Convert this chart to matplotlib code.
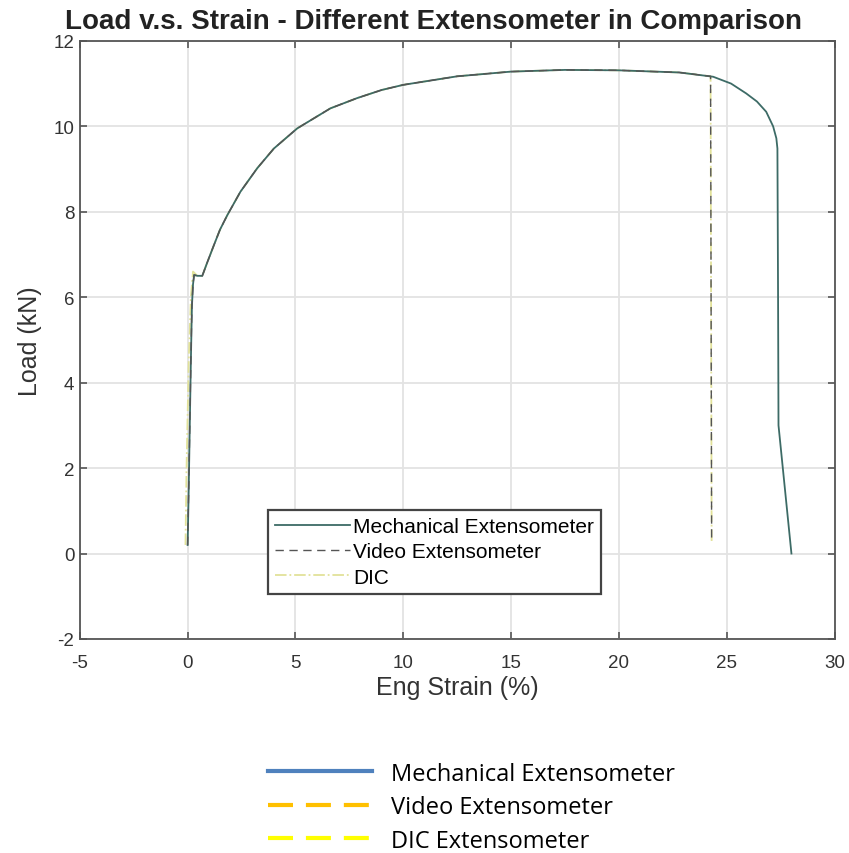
import numpy as np
import matplotlib.pyplot as plt
from matplotlib.lines import Line2D

plt.rcParams['axes.unicode_minus'] = False

# Datos (deformacion en %, carga en kN)
strain_mech = [0.0, 0.05, 0.1, 0.15, 0.2, 0.25, 0.3, 0.45, 0.68, 0.9, 1.22, 1.5, 1.84, 2.45, 3.23,
               4.0, 5.08, 6.62, 7.86, 9.0, 10.0, 12.5, 15.0, 17.5, 20.0, 22.8, 24.37, 25.2,
               25.9, 26.4, 26.83, 27.15, 27.3, 27.35, 27.38, 27.4, 27.7, 28.0]
load_mech = [0.2, 1.5, 3.0, 4.5, 5.8, 6.3, 6.52, 6.5, 6.5, 6.8, 7.22, 7.58, 7.92, 8.47, 9.02,
             9.48, 9.95, 10.42, 10.66, 10.85, 10.97, 11.17, 11.28, 11.32, 11.31, 11.26, 11.16, 11.0,
             10.77, 10.58, 10.34, 10.0, 9.72, 9.48, 6.0, 3.0, 1.5, 0.0]

strain_video = [0.0, 0.05, 0.1, 0.15, 0.2, 0.25, 0.3, 0.45, 0.68, 0.9, 1.22, 1.5, 1.84, 2.45, 3.23,
                4.0, 5.08, 6.62, 7.86, 9.0, 10.0, 12.5, 15.0, 17.5, 20.0, 22.8, 24.25, 24.3]
load_video = [0.2, 1.5, 3.0, 4.5, 5.8, 6.3, 6.52, 6.5, 6.5, 6.8, 7.22, 7.58, 7.92, 8.47, 9.02,
              9.48, 9.95, 10.42, 10.66, 10.85, 10.97, 11.17, 11.28, 11.32, 11.31, 11.26, 11.17, 0.25]

strain_dic = [-0.1, -0.05, 0.05, 0.15, 0.25, 0.45, 0.68, 0.9, 1.22, 1.5, 1.84, 2.45, 3.23,
              4.0, 5.08, 6.62, 7.86, 9.0, 10.0, 12.5, 15.0, 17.5, 20.0, 22.8, 24.25, 24.3]
load_dic = [0.2, 2.0, 4.5, 6.0, 6.6, 6.5, 6.5, 6.8, 7.22, 7.58, 7.92, 8.47, 9.02,
            9.48, 9.95, 10.42, 10.66, 10.85, 10.97, 11.17, 11.28, 11.32, 11.31, 11.26, 11.17, 0.25]

legend_in = ['Mechanical Extensometer', 'Video Extensometer', 'DIC']
legend_out = ['Mechanical Extensometer', 'Video Extensometer', 'DIC Extensometer']

fig = plt.figure(figsize=(8.49, 8.54), dpi=100)
ax = fig.add_axes([0.094, 0.2506, 0.889, 0.7004])

ax.plot(strain_dic, load_dic, color='#e2e29a', linestyle='-.', linewidth=1.3, label=legend_in[2])
ax.plot(strain_mech, load_mech, color='#3d6b66', linestyle='-', linewidth=1.3, label=legend_in[0])
ax.plot(strain_video, load_video, color='#555555', linestyle=(0, (6, 4)), linewidth=1.0, label=legend_in[1])

ax.set_xlim(-5, 30)
ax.set_ylim(-2, 12)
ax.set_xticks(np.arange(-5, 31, 5))
ax.set_yticks(np.arange(-2, 13, 2))
ax.grid(True, color='#e3e3e3', linewidth=1.3)
ax.set_axisbelow(True)
for s in ax.spines.values():
    s.set_color('#555555')
    s.set_linewidth(1.3)
ax.tick_params(direction='in', length=5, width=1.2, colors='#555555', labelcolor='#333333',
               labelsize=13.5, top=True, right=True)
ax.tick_params(axis='x', pad=11)
ax.tick_params(axis='y', pad=4)

fnt = 'Liberation Sans'
for lab in ax.get_xticklabels() + ax.get_yticklabels():
    lab.set_family(fnt)
ax.set_xlabel('Eng Strain (%)', fontsize=18, family=fnt, color='#333333', labelpad=3)
ax.set_ylabel('Load (kN)', fontsize=18, family=fnt, color='#333333', labelpad=8)
ax.set_title('Load v.s. Strain - Different Extensometer in Comparison', fontsize=20,
             fontweight='bold', family=fnt, color='#222222', pad=9, x=0.469)

# leyenda interna
h, l = ax.get_legend_handles_labels()
order = [1, 2, 0]
leg = ax.legend([h[i] for i in order], [l[i] for i in order], loc='lower left',
                bbox_to_anchor=(0.249, 0.0753), borderaxespad=0, fancybox=False,
                edgecolor='#444444', prop={'family': fnt, 'size': 15}, handlelength=3.6,
                handletextpad=0.15, labelspacing=0.3, borderpad=0.35, framealpha=1)
leg.get_frame().set_linewidth(1.6)

# leyenda externa bajo el grafico
handles = [Line2D([], [], color='#4f81bd', lw=3),
           Line2D([], [], color='#ffc000', lw=3, linestyle=(0, (6, 3.1))),
           Line2D([], [], color='#ffff00', lw=3, linestyle=(0, (6, 3.1)))]
fig.legend(handles, legend_out, loc='upper left', bbox_to_anchor=(0.3157, 0.107),
           borderaxespad=0, borderpad=0, frameon=False,
           prop={'family': 'Open Sans', 'size': 17}, handlelength=4.4,
           handletextpad=0.8, labelspacing=0.4)

fig.savefig('out.png', dpi=100)
